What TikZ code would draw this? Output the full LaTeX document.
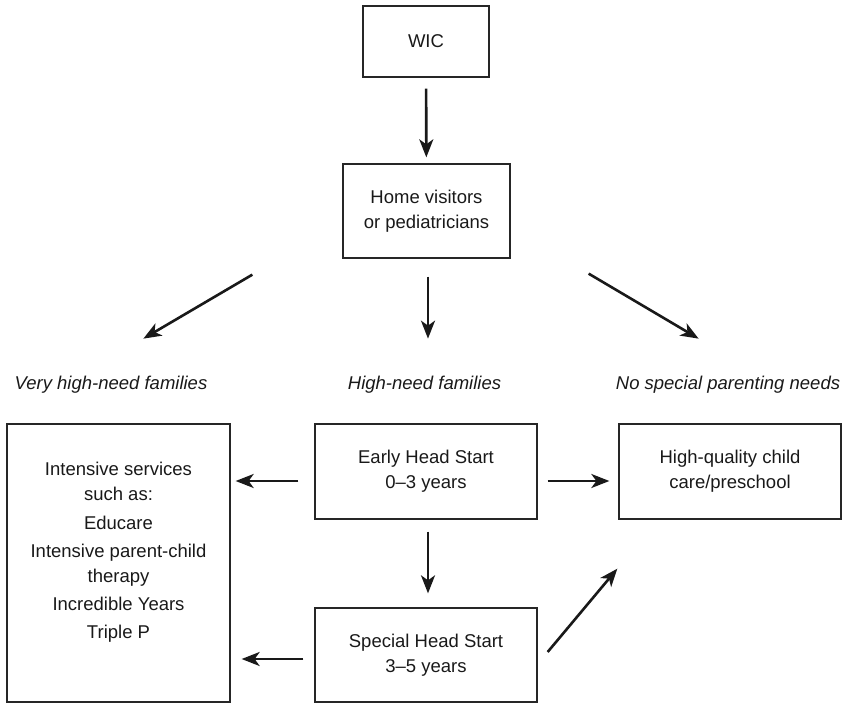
\documentclass[tikz,border=0pt]{standalone}
\usepackage{fontspec}
\setmainfont{Liberation Sans}
\usetikzlibrary{arrows.meta,calc}

\begin{document}
\begin{tikzpicture}[x=1pt,y=-1pt,
        box/.style={draw=black!85, line width=1.3pt, text=black!90, align=center,
            font=\fontsize{18.5}{25}\selectfont},
        group/.style={text=black!90, inner sep=0pt, anchor=base,
            font=\fontsize{18.5}{25}\selectfont\itshape},
        arr/.style={draw=black!90, line width=2.6pt,
            -{Stealth[length=18pt,width=14pt,inset=5pt]}}]
    \useasboundingbox (0,0) rectangle (848,703);
    % boxes
    \node[box, minimum width=126pt, minimum height=71pt] (wic) at (426,41.5) {WIC};
    \node[box, minimum width=167pt, minimum height=94pt] (home) at (426.5,211) {Home visitors\\or pediatricians};
    \node[box, minimum width=222pt, minimum height=95pt] (ehs) at (426,471.5) {Early Head Start\\0--3 years};
    \node[box, minimum width=222pt, minimum height=95pt] (hq) at (730,471.5) {High-quality child\\care/preschool};
    \node[box, minimum width=222pt, minimum height=94pt] (shs) at (426,655) {Special Head Start\\3--5 years};
    \node[box, minimum width=223pt, minimum height=278pt] (intensive) at (118.5,563) {};
    \node[box, draw=none, inner sep=0pt, anchor=north] (intensivetext) at (118.5,461.75)
        {Intensive services\\such as:\\[3.5pt]Educare\\[3.5pt]Intensive parent-child\\therapy\\[3pt]Incredible Years\\[3pt]Triple P};
    % groups
    \node[group] (veryhigh) at (111,389) {Very high-need families};
    \node[group] (highneed) at (424.5,389) {High-need families};
    \node[group] (nospecial) at (728,389) {No special parenting needs};
    % arrows
    \draw[arr, shorten <=11pt, shorten >=6pt] (wic) -- (home);
    \draw[arr] ([shift={(-90,16)}]home.south west) -- ([shift={(-199,80)}]home.south west);
    \draw[arr] ([shift={(1.5,18)}]home.south) -- ([shift={(1.5,80)}]home.south);
    \draw[arr] ([shift={(78,15)}]home.south east) -- ([shift={(188,80)}]home.south east);
    \draw[arr, shorten <=16pt, shorten >=5pt] ([shift={(0,9.5)}]ehs.west) -- ([shift={(0,9.5)}]ehs.west -| intensive.east);
    \draw[arr, shorten <=10pt, shorten >=9pt] ([shift={(0,9.5)}]ehs.east) -- ([shift={(0,9.5)}]hq.west);
    \draw[arr, shorten <=12pt, shorten >=14pt] ([xshift=2pt]ehs.south) -- ([xshift=2pt]shs.north);
    \draw[arr, shorten <=11pt, shorten >=11pt] ([shift={(0,4)}]shs.west) -- ([shift={(0,4)}]shs.west -| intensive.east);
    \draw[arr] ([shift={(10,-3)}]shs.east) -- ([shift={(-1,49)}]hq.south west);
\end{tikzpicture}
\end{document}
